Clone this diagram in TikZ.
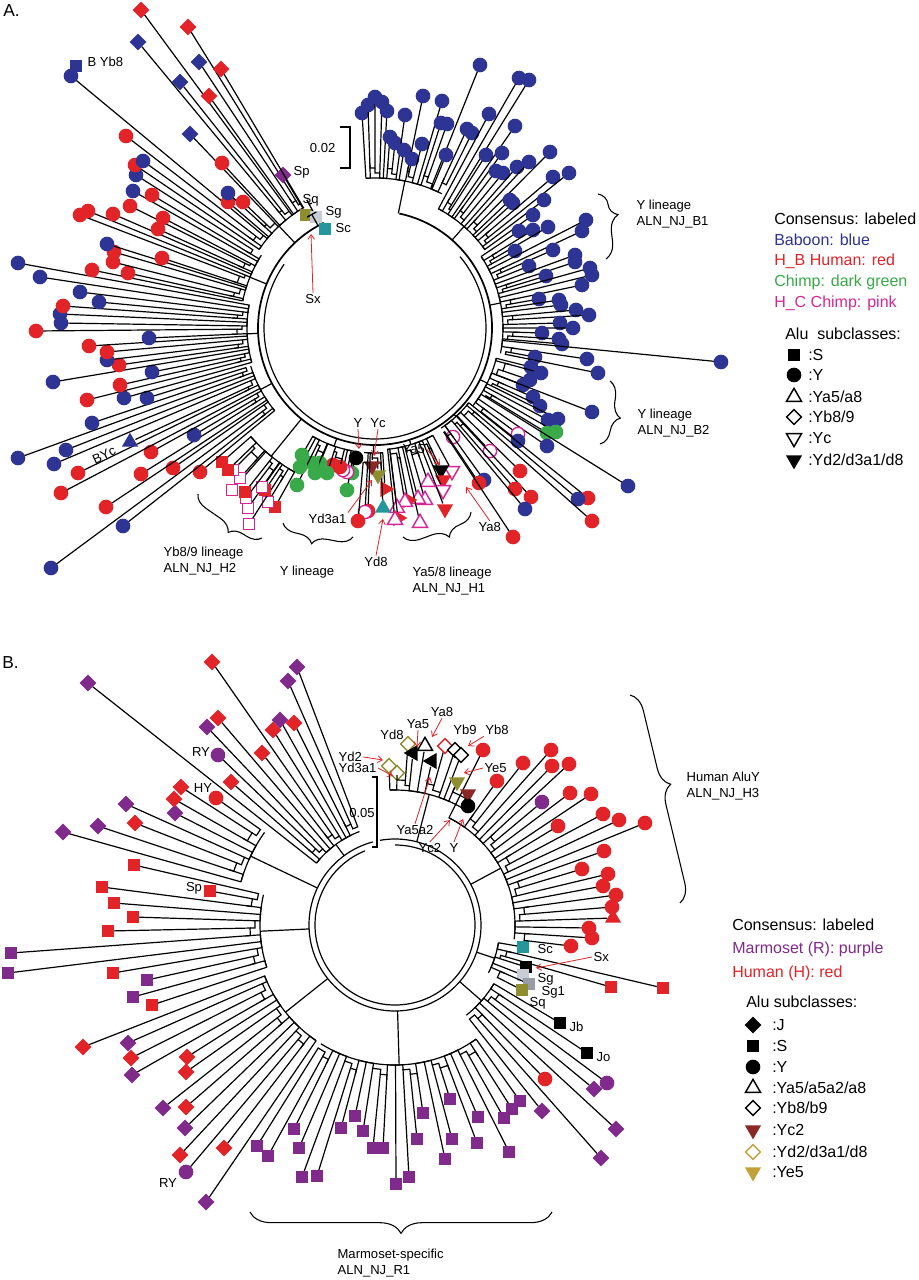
\documentclass[tikz,border=0pt]{standalone}
\usepackage{fontspec}
\setmainfont{Liberation Sans}
\usetikzlibrary{shapes.geometric,arrows.meta,decorations.pathreplacing}

\definecolor{bblue}{RGB}{46,52,148}
\definecolor{hred}{RGB}{226,35,40}
\definecolor{cgreen}{RGB}{57,170,74}
\definecolor{cpink}{RGB}{214,38,150}
\definecolor{mpurple}{RGB}{128,42,140}
\definecolor{steal}{RGB}{36,150,156}
\definecolor{solive}{RGB}{142,142,48}
\definecolor{slgray}{RGB}{200,204,212}
\definecolor{sgray}{RGB}{150,155,165}
\definecolor{ybrown}{RGB}{140,40,35}
\definecolor{ygold}{RGB}{196,160,56}

\tikzset{
  branch/.style={line width=0.9pt},
  leaf/.style={inner sep=0pt, outer sep=0pt},
  lc/.style={leaf, circle, fill=#1, minimum size=11pt},
  ls/.style={leaf, rectangle, fill=#1, minimum size=9.5pt},
  ld/.style={leaf, diamond, fill=#1, minimum size=12.5pt},
  ltu/.style={leaf, regular polygon, regular polygon sides=3, fill=#1, minimum size=14pt},
  ltd/.style={ltu=#1, shape border rotate=180},
  ltr/.style={ltu=#1, shape border rotate=-90},
  ltl/.style={ltu=#1, shape border rotate=90},
  loc/.style={leaf, circle, draw=#1, fill=white, line width=1pt, minimum size=10pt},
  los/.style={leaf, rectangle, draw=#1, fill=white, line width=0.9pt, minimum size=8pt},
  lod/.style={leaf, diamond, draw=#1, fill=white, line width=1.1pt, minimum size=11pt},
  lotu/.style={leaf, regular polygon, regular polygon sides=3, draw=#1, fill=white, line width=1.1pt, minimum size=13pt},
  lotd/.style={lotu=#1, shape border rotate=180},
  lab/.style={font=\fontsize{9.8}{12.5}\selectfont, inner sep=1pt},
  leg/.style={font=\fontsize{12}{14}\selectfont, inner sep=0pt, anchor=west},
  redarr/.style={draw=hred, line width=0.6pt, -{Straight Barb[length=3.5pt,width=5pt]}},
  brc/.style 2 args={decorate, decoration={brace, amplitude=#1, aspect=#2}, line width=0.8pt}
}

% one clade of leaves: name, reference angle, base radius, root radius, x/y/colour/shape
\newcommand{\leafgroup}[5]{%
  \foreach \mx/\my/\mc/\ms [count=\k] in {#5}{%
    \pgfmathsetmacro\lang{#2+mod(atan2(\my-\cy,\mx-\cx)-(#2)+540,360)-180}%
    \pgfmathsetmacro\rb{#3+5*mod(3*\k+1,4)}%
    \pgfmathsetmacro\rtip{max(veclen(\mx-\cx,\my-\cy)-6,\rb)}%
    \ifnum\k=1 \xdef\firstang{\lang}\xdef\prevang{\lang}\xdef\prevrb{\rb}\fi
    \pgfmathsetmacro\rmid{min(\rb,\prevrb)}%
    \draw[branch] ([shift={(\prevang:\prevrb)}]\cx,\cy) -- ([shift={(\prevang:\rmid)}]\cx,\cy)
      arc[start angle=\prevang, end angle=\lang, radius=\rmid] -- ([shift={(\lang:\rb)}]\cx,\cy)
      -- ([shift={(\lang:\rtip)}]\cx,\cy);
    \node[\ms=\mc] (#1-\k) at (\mx,\my) {};
    \xdef\prevang{\lang}\xdef\prevrb{\rb}%
  }%
  \pgfmathsetmacro\midang{(\firstang+\prevang)/2}%
  \draw[branch] ([shift={(\firstang:#3)}]\cx,\cy) arc[start angle=\firstang, end angle=\prevang, radius=#3];
  \draw[branch] ([shift={(\midang:#4)}]\cx,\cy) -- ([shift={(\midang:#3)}]\cx,\cy);
}

\begin{document}
\begin{tikzpicture}[x=0.75pt, y=-0.75pt]
  \useasboundingbox (0,0) rectangle (919,1280);
  \fill[white] (0,0) rectangle (919,1280);

  % ---------- Tree A ----------
  \def\cx{375}\def\cy{328}
  % central ring
  \draw[branch, line width=1.3pt] (\cx,\cy) ++(-78:117) arc[start angle=-78, end angle=244, radius=117];
  \draw[branch] (\cx,\cy) ++(-40:111) arc[start angle=-40, end angle=215, radius=111];

  % clades
  \leafgroup{a1}{-80}{150}{117}{362/113/bblue/lc, 368/105/bblue/lc, 375/97/bblue/lc, 382/102/bblue/lc, 387/111/bblue/lc, 390/137/bblue/lc, 395/143/bblue/lc, 405/115/bblue/lc, 404/150/bblue/lc, 423/96/bblue/lc, 412/159/bblue/lc, 422/144/bblue/lc, 442/101/bblue/lc, 441/123/bblue/lc, 447/124/bblue/lc, 480/65/bblue/lc, 446/155/bblue/lc, 467/129/bblue/lc, 472/133/bblue/lc}
  \leafgroup{a2}{-50}{135}{117}{489/114/bblue/lc, 519/78/bblue/lc, 529/80/bblue/lc, 486/155/bblue/lc, 515/126/bblue/lc, 502/153/bblue/lc, 496/171/bblue/lc, 503/173/bblue/lc, 517/167/bblue/lc, 529/162/bblue/lc, 550/152/bblue/lc, 510/200/bblue/lc, 513/203/bblue/lc, 553/177/bblue/lc, 569/173/bblue/lc, 544/200/bblue/lc, 533/215/bblue/lc}
  \leafgroup{a3}{-10}{128}{117}{519/231/bblue/lc, 533/230/bblue/lc, 548/227/bblue/lc, 515/251/bblue/lc, 586/220/bblue/lc, 582/231/bblue/lc, 553/250/bblue/lc, 529/266/bblue/lc, 575/255/bblue/lc, 575/262/bblue/lc, 546/276/bblue/lc, 590/268/bblue/lc, 592/275/bblue/lc, 582/285/bblue/lc, 539/299/bblue/lc, 559/300/bblue/lc, 561/305/bblue/lc, 576/310/bblue/lc, 589/315/bblue/lc, 560/323/bblue/lc, 573/328/bblue/lc, 542/333/bblue/lc, 559/339/bblue/lc, 562/344/bblue/lc, 721/362/bblue/lc, 587/359/bblue/lc, 535/357/bblue/lc, 598/373/bblue/lc}
  \leafgroup{a4}{25}{125}{117}{531/367/bblue/lc, 541/373/bblue/lc, 530/380/bblue/lc, 523/385/bblue/lc, 592/412/bblue/lc, 533/397/bblue/lc, 540/406/bblue/lc, 558/419/bblue/lc, 548/420/bblue/lc, 556/432/cgreen/lc, 547/433/cgreen/lc, 628/486/bblue/lc, 547/446/bblue/lc, 518/434/cpink/loc, 518/441/bblue/lc}
  \leafgroup{a5}{47}{120}{117}{588/498/hred/lc, 578/499/bblue/lc, 592/521/hred/lc, 520/471/hred/lc, 490/451/cpink/loc, 531/497/hred/lc, 515/489/hred/lc, 525/509/bblue/lc, 453/437/cpink/loc, 484/480/bblue/lc, 479/483/hred/lc, 513/537/hred/lc}
  \leafgroup{a6}{72}{122}{117}{452/471/cpink/lotd, 441/470/black/ltd, 443/480/hred/ltd, 443/490/cpink/lotd, 445/509/hred/ltd, 428/482/cpink/lotu, 425/500/cpink/lotu, 418/499/cpink/lotu, 420/523/cpink/lotu, 408/500/hred/ltr, 405/502/cpink/lotu, 397/508/cpink/lotu, 398/518/hred/ltr, 395/520/cpink/lotu}
  \leafgroup{a7}{90}{125}{117}{385/489/hred/ltr, 383/508/steal/ltu, 378/475/solive/ltd, 372/466/ybrown/ltd, 368/511/hred/lc, 365/512/cpink/loc, 358/521/hred/lc}
  \leafgroup{a8}{108}{125}{117}{356/458/black/lc, 352/473/cgreen/lc, 347/490/cgreen/lc, 347/472/cpink/loc, 343/470/cpink/loc, 340/467/hred/lc, 333/465/hred/lc, 327/473/cgreen/lc, 320/463/cgreen/lc, 315/473/cgreen/lc, 312/463/cgreen/lc, 297/485/cgreen/lc, 300/467/cgreen/lc, 302/455/cgreen/lc}
  \leafgroup{a9}{130}{165}{117}{275/507/hred/ls, 268/502/cpink/los, 249/524/cpink/los, 265/490/hred/ls, 248/508/cpink/los, 262/487/cpink/los, 246/498/cpink/los, 245/492/hred/ls, 232/490/cpink/los, 240/478/cpink/los, 233/470/cpink/los, 228/470/hred/ls, 222/462/hred/ls}
  \leafgroup{a10}{152}{130}{117}{200/472/hred/lc, 123/526/bblue/lc, 51/568/bblue/lc, 173/468/hred/lc, 106/507/hred/lc, 141/474/hred/lc, 194/435/bblue/lc, 151/452/hred/lc, 61/493/hred/lc, 78/473/hred/lc, 130/442/bblue/ltu, 54/464/bblue/lc, 66/450/bblue/lc, 18/458/bblue/lc, 92/423/bblue/lc, 147/398/bblue/lc}
  \leafgroup{a11}{177}{128}{117}{124/398/bblue/lc, 87/400/hred/lc, 120/385/hred/lc, 152/372/bblue/lc, 53/382/bblue/lc, 119/365/hred/lc, 107/360/bblue/lc, 107/352/hred/lc, 89/346/hred/lc, 149/338/bblue/lc, 36/331/hred/lc, 61/323/bblue/lc, 60/314/bblue/lc, 63/306/hred/lc, 99/302/bblue/lc, 80/292/bblue/lc, 40/277/bblue/lc, 18/263/bblue/lc}
  \leafgroup{a12}{202}{135}{117}{92/270/hred/lc, 128/273/hred/lc, 113/262/hred/lc, 114/252/hred/lc, 107/244/bblue/lc, 162/258/hred/lc, 80/215/hred/lc, 88/211/hred/lc, 113/214/hred/lc, 158/229/hred/lc, 130/206/hred/lc, 163/218/hred/lc, 133/191/bblue/lc, 152/195/hred/lc, 136/175/bblue/lc}
  \leafgroup{a13}{227}{140}{117}{135/165/hred/lc, 143/161/bblue/lc, 126/136/hred/lc, 71/76/bblue/lc, 228/202/hred/lc, 228/193/bblue/lc, 243/202/hred/lc, 190/134/bblue/ld, 222/163/hred/lc, 138/42/bblue/ld, 180/82/bblue/ld, 141/10/hred/ld, 209/96/hred/ld, 199/62/bblue/ld, 188/27/hred/ld, 283/175/mpurple/ld, 221/69/hred/ld}
  \leafgroup{a14}{241}{130}{117}{306/215/solive/ls, 316/217/slgray/ls, 325/229/steal/ls}
  \node[ls=bblue] (sBYb8) at (76,66) {};

  % labels A
  \node[anchor=north west, inner sep=0pt, font=\fontsize{13}{15}\selectfont] (tA) at (3,4) {A.};
  \node[lab, anchor=west] (lBYb8) at (86,62) {B Yb8};
  \node[lab, anchor=west] (lSp) at (292,172) {Sp};
  \node[lab, anchor=west] (lSq) at (301,200) {Sq};
  \node[lab, anchor=west] (lSg) at (324,212) {Sg};
  \node[lab, anchor=west] (lSc) at (334,228) {Sc};
  \node[lab] (lSx) at (313,299) {Sx};
  \coordinate (pSx) at (311,234);
  \draw[redarr] (lSx.north) -- (pSx);
  \node[lab, anchor=east] (lsA) at (337,148) {0.02};
  \draw[branch] (340,127) -- (350,127) -- (350,168) -- (340,168);
  \node[lab, anchor=west, align=left] (lB1) at (635,214) {Y lineage\\ALN\_NJ\_B1};
  \draw[brc={13pt}{0.35}] (598,194) -- (606,259);
  \node[lab, anchor=west, align=left] (lB2) at (636,423) {Y lineage\\ALN\_NJ\_B2};
  \draw[brc={12pt}{0.55}] (610,381) -- (600,444);
  \node[lab, rotate=25] (lBYc) at (104,455) {BYc};
  \node[lab] (lY) at (358,423) {Y};
  \node[lab] (lYc) at (378,423) {Yc};
  \coordinate (pY) at (359,449);
  \coordinate (pYc) at (374,456);
  \draw[redarr] (lY.south) -- (pY);
  \draw[redarr] (lYc.south) -- (pYc);
  \node[lab, anchor=west] (lYa5) at (401,449) {Ya5};
  \coordinate (pYa5) at (440,465);
  \draw[redarr] (lYa5.east) -- (pYa5);
  \node[lab, anchor=west] (lYa8) at (477,527) {Ya8};
  \coordinate (pYa8) at (466,487);
  \draw[redarr] (lYa8.north) -- (pYa8);
  \node[lab, anchor=west] (lYd3) at (307,519) {Yd3a1};
  \coordinate (pYd3) at (372,480);
  \draw[redarr] (lYd3.north east) -- (pYd3);
  \node[lab] (lYd8) at (376,562) {Yd8};
  \coordinate (pYd8) at (383,519);
  \draw[redarr] (lYd8.north) -- (pYd8);
  \node[lab, anchor=west, align=left] (lH2) at (162,561) {Yb8/9 lineage\\ALN\_NJ\_H2};
  \draw[brc={11pt}{0.4}] (262,538) -- (198,494);
  \node[lab] (lYl) at (307,572) {Y lineage};
  \draw[brc={11pt}{0.55}] (353,537) -- (283,523);
  \node[lab, anchor=west, align=left] (lH1) at (411,581) {Ya5/8 lineage\\ALN\_NJ\_H1};
  \draw[brc={12pt}{0.4}] (471,512) -- (403,537);

  % legend A
  \node[leg] (cA) at (774,219) {Consensus: labeled};
  \node[leg, text=bblue] (bA) at (774,240) {Baboon: blue};
  \node[leg, text=hred] (hA) at (774,261) {H\_B Human: red};
  \node[leg, text=cgreen] (gA) at (774,282) {Chimp: dark green};
  \node[leg, text=cpink] (pA) at (774,303) {H\_C Chimp: pink};
  \node[leg] (aA) at (785,334) {Alu\ \ subclasses:};
  \foreach \yy/\sh/\cl/\tx [count=\k] in {355/ls/black/{:S}, 375/lc/black/{:Y}, 397/lotu/black/{:Ya5/a8}, 417/lod/black/{:Yb8/9}, 438/lotd/black/{:Yc}, 460/ltd/black/{:Yd2/d3a1/d8}}{
    \node[\sh=\cl] (kA-\k) at (794,\yy) {};
    \node[leg] (xA-\k) at (808,\yy) {\tx};
  }

  % ---------- Tree B ----------
  \def\cx{395}\def\cy{925}
  % central double ring
  \draw[branch] (\cx,\cy) ++(-100:86) arc[start angle=-100, end angle=255, radius=86];
  \draw[branch] (\cx,\cy) ++(-90:80) arc[start angle=-90, end angle=248, radius=80];

  % clades
  \leafgroup{b1}{205}{160}{86}{63/832/mpurple/ld, 98/826/mpurple/ld, 135/823/hred/ld, 126/804/mpurple/ld, 175/813/mpurple/ld, 174/799/hred/ld, 181/787/hred/ld, 216/798/hred/lc}
  \leafgroup{b2}{232}{100}{86}{88/683/mpurple/ld, 231/782/hred/ld, 218/755/mpurple/lc, 207/727/mpurple/ld, 218/718/hred/ld, 262/753/hred/ld, 212/662/hred/ld, 273/730/hred/ld, 280/720/mpurple/ld, 294/723/hred/ld, 288/681/mpurple/ld, 297/667/mpurple/ld}
  \leafgroup{b3}{178}{135}{86}{152/1005/hred/ls, 133/997/mpurple/ls, 147/980/mpurple/ls, 113/973/hred/ls, 8/973/mpurple/ls, 11/953/mpurple/ls, 108/931/hred/ls, 133/917/hred/ls, 114/903/hred/ls, 102/887/hred/ls, 210/891/hred/ls, 134/865/hred/ls}
  \leafgroup{b4}{142}{140}{86}{206/1202/mpurple/ld, 224/1148/hred/ld, 186/1172/mpurple/lc, 180/1155/hred/ld, 185/1128/mpurple/ld, 186/1107/hred/ld, 163/1108/mpurple/ld, 186/1072/hred/ld, 187/1057/hred/ld, 132/1075/mpurple/ld, 131/1058/hred/ld, 128/1043/mpurple/ld, 83/1047/hred/ld}
  \leafgroup{b5}{88}{140}{86}{520/1101/mpurple/ls, 512/1109/mpurple/ls, 504/1118/mpurple/ls, 509/1152/mpurple/ls, 478/1117/mpurple/ls, 477/1143/mpurple/ls, 450/1099/mpurple/ls, 452/1139/mpurple/ls, 445/1159/mpurple/ls, 423/1113/mpurple/ls, 417/1139/mpurple/ls, 409/1177/mpurple/ls, 396/1184/mpurple/ls, 383/1148/mpurple/ls, 373/1148/mpurple/ls, 363/1131/mpurple/ls, 355/1116/mpurple/ls, 341/1128/mpurple/ls, 317/1176/mpurple/ls, 302/1177/mpurple/ls, 299/1148/mpurple/ls, 294/1129/mpurple/ls, 268/1156/mpurple/ls, 257/1146/mpurple/ls}
  \leafgroup{b6}{40}{115}{86}{560/1023/black/ls, 587/1053/black/ls, 607/1083/mpurple/lc, 594/1089/mpurple/ld, 616/1129/mpurple/ld, 545/1079/hred/lc, 601/1158/mpurple/ld, 542/1111/mpurple/ld}
  \leafgroup{b7}{18}{105}{86}{523/947/steal/ls, 663/988/hred/ls, 611/987/hred/ls, 526/967/black/ls, 523/975/slgray/ls, 529/984/sgray/ls, 522/990/solive/ls}
  \leafgroup{b8}{-28}{120}{86}{483/750/hred/lc, 497/781/hred/lc, 523/763/hred/lc, 551/750/hred/lc, 552/766/hred/lc, 569/764/hred/lc, 542/802/mpurple/lc, 570/793/hred/lc, 591/794/hred/lc, 558/826/hred/lc, 603/814/hred/lc, 619/820/hred/lc, 645/823/hred/lc, 604/851/hred/lc, 582/869/hred/lc, 608/874/hred/lc, 603/886/hred/lc, 616/895/hred/lc, 612/907/hred/lc, 613/918/hred/ltu, 589/928/hred/lc, 592/938/hred/lc, 571/946/hred/lc}
  \leafgroup{b9}{-75}{135}{86}{389/766/solive/lod, 397/773/solive/lod, 408/744/solive/lod, 413/753/black/ltl, 425/746/black/lotu, 432/761/black/ltl, 445/746/hred/lod, 455/750/black/lod, 461/755/black/lod, 457/782/solive/ltd, 468/794/ybrown/ltd, 468/806/black/lc}

  % labels B
  \node[anchor=west, inner sep=0pt, font=\fontsize{13}{15}\selectfont] (tB) at (2,663) {B.};
  \node[lab] (lRY) at (201,752) {RY};
  \node[lab] (lHY) at (203,788) {HY};
  \node[lab] (lSpB) at (194,888) {Sp};
  \node[lab] (lRY2) at (168,1183) {RY};
  \node[lab, anchor=west] (lYd2) at (337,757) {Yd2};
  \node[lab, anchor=west] (lYd3B) at (337,768) {Yd3a1};
  \coordinate (pYd2) at (383,760);
  \coordinate (pYd3B) at (393,776);
  \draw[redarr] (lYd2.east) -- (pYd2);
  \draw[redarr] (lYd3B.east) -- (pYd3B);
  \node[lab] (lYd8B) at (392,735) {Yd8};
  \node[lab] (lYa5B) at (418,724) {Ya5};
  \coordinate (pYa5B) at (417,747);
  \draw[redarr] (lYa5B.south) -- (pYa5B);
  \node[lab] (lYa8B) at (442,712) {Ya8};
  \coordinate (pYa8B) at (432,737);
  \draw[redarr] (lYa8B.south) -- (pYa8B);
  \node[lab] (lYb9) at (465,730) {Yb9};
  \node[lab] (lYb8) at (497,730) {Yb8};
  \coordinate (pYb8) at (468,746);
  \draw[redarr] (lYb8.south west) -- (pYb8);
  \node[lab, anchor=west] (lYe5) at (483,768) {Ye5};
  \coordinate (pYe5) at (464,773);
  \draw[redarr] (lYe5.west) -- (pYe5);
  \node[lab] (lYa5a2) at (415,830) {Ya5a2};
  \coordinate (pYa5a2) at (430,777);
  \draw[redarr] (lYa5a2.north) -- (pYa5a2);
  \node[lab] (lYc2) at (430,848) {Yc2};
  \coordinate (pYc2) at (450,820);
  \draw[redarr] (lYc2.north) -- (pYc2);
  \node[lab] (lYB) at (454,848) {Y};
  \coordinate (pYB) at (463,819);
  \draw[redarr] (lYB.north) -- (pYB);
  \node[lab] (lsB) at (362,813) {0.05};
  \draw[branch] (372,777) -- (377,777) -- (377,847) -- (372,847);
  \node[lab, anchor=west, align=left] (lH3) at (685,786) {Human AluY\\ALN\_NJ\_H3};
  \draw[brc={14pt}{0.45}] (630,695) -- (680,903);
  \node[lab, anchor=west] (lScB) at (536,949) {Sc};
  \node[lab, anchor=west] (lSxB) at (592,957) {Sx};
  \coordinate (pSxB) at (536,968);
  \draw[redarr] (lSxB.west) -- (pSxB);
  \node[lab, anchor=west] (lSgB) at (536,979) {Sg};
  \node[lab, anchor=west] (lSg1) at (540,992) {Sg1};
  \node[lab, anchor=west] (lSqB) at (528,1003) {Sq};
  \node[lab, anchor=west] (lJb) at (568,1027) {Jb};
  \node[lab, anchor=west] (lJo) at (595,1057) {Jo};
  \node[lab, anchor=west, align=left] (lR1) at (336,1263) {Marmoset-specific\\ALN\_NJ\_R1};
  \draw[brc={16pt}{0.5}] (552,1212) -- (250,1212);

  % legend B
  \node[leg] (cB) at (732,925) {Consensus: labeled};
  \node[leg, text=mpurple] (mB) at (732,949) {Marmoset (R): purple};
  \node[leg, text=hred] (hB) at (732,973) {Human (H): red};
  \node[leg] (aB) at (746,1002) {Alu subclasses:};
  \foreach \yy/\sh/\cl/\tx [count=\k] in {1025/ld/black/{:J}, 1046/ls/black/{:S}, 1067/lc/black/{:Y}, 1088/lotu/black/{:Ya5/a5a2/a8}, 1108/lod/black/{:Yb8/b9}, 1130/ltd/ybrown/{:Yc2}, 1152/lod/ygold/{:Yd2/d3a1/d8}, 1172/ltd/ygold/{:Ye5}}{
    \node[\sh=\cl] (kB-\k) at (753,\yy) {};
    \node[leg] (xB-\k) at (772,\yy) {\tx};
  }
\end{tikzpicture}
\end{document}
